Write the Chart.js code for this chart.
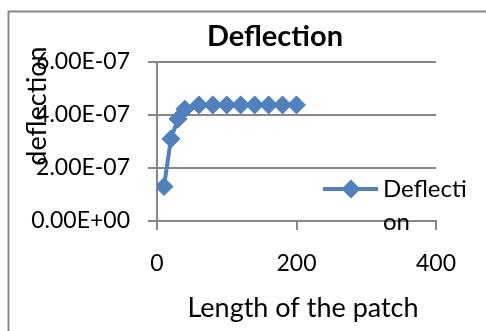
<!DOCTYPE html>
<html>
<head>
<meta charset="utf-8">
<script src="https://cdn.jsdelivr.net/npm/chart.js@4"></script>
<style>
html,body{margin:0;padding:0;background:#fff;}
#c{display:block;}
</style>
</head>
<body>
<canvas id="c" width="486" height="331"></canvas>
<script>
const lengths = [10, 20, 30, 40, 60, 80, 100, 120, 140, 160, 180, 200];
const deflection = [1.3e-7, 3.1e-7, 3.85e-7, 4.22e-7, 4.38e-7, 4.38e-7, 4.38e-7, 4.38e-7, 4.38e-7, 4.38e-7, 4.38e-7, 4.38e-7];
const seriesName = "Deflection";
const chartTitle = "Deflection";
const xTitle = "Length of the patch";
const yTitle = "deflection";
const legendLines = ["Deflecti", "on"];

const BLUE = "#4F81BD";
const GRID = "#878787";
const FONT = "Lato";

function fmtExp(v) {
  const s = Number(v).toExponential(2);
  const m = s.match(/^(-?[\d.]+)e([+-])(\d+)$/);
  if (!m) return s;
  return m[1] + "E" + m[2] + m[3].padStart(2, "0");
}

const decor = {
  id: "decor",
  beforeDraw(chart) {
    const ctx = chart.ctx;
    ctx.save();
    ctx.fillStyle = "#fff";
    ctx.fillRect(0, 0, chart.width, chart.height);
    ctx.strokeStyle = GRID;
    ctx.lineWidth = 2;
    ctx.strokeRect(8.5, 11.5, 600, 600);
    ctx.restore();
  },
  afterDraw(chart) {
    const ctx = chart.ctx;
    ctx.save();
    ctx.fillStyle = "#000";
    // title
    ctx.font = "bold 29px " + FONT;
    ctx.textAlign = "center";
    ctx.textBaseline = "middle";
    ctx.fillText(chartTitle, 275, 37);
    // x title
    ctx.font = "27px " + FONT;
    ctx.fillText(xTitle, 303, 308);
    // y title
    ctx.save();
    ctx.translate(37, 106);
    ctx.rotate(-Math.PI / 2);
    ctx.fillText(yTitle, 0, 0);
    ctx.restore();
    // legend
    const ly = 189;
    ctx.strokeStyle = BLUE;
    ctx.lineWidth = 4;
    ctx.beginPath();
    ctx.moveTo(323, ly);
    ctx.lineTo(378, ly);
    ctx.stroke();
    ctx.fillStyle = BLUE;
    ctx.beginPath();
    const cx = 351, r = 9.5;
    ctx.moveTo(cx, ly - r);
    ctx.lineTo(cx + r, ly);
    ctx.lineTo(cx, ly + r);
    ctx.lineTo(cx - r, ly);
    ctx.closePath();
    ctx.fill();
    ctx.fillStyle = "#000";
    ctx.textAlign = "left";
    ctx.font = "24px " + FONT;
    ctx.fillText(legendLines[0], 383, ly);
    ctx.fillText(legendLines[1], 383, ly + 33);
    ctx.restore();
  }
};

new Chart(document.getElementById("c"), {
  type: "line",
  data: {
    datasets: [{
      label: seriesName,
      data: lengths.map((x, i) => ({ x: x, y: deflection[i] })),
      borderColor: BLUE,
      backgroundColor: BLUE,
      borderWidth: 4,
      pointStyle: "rectRot",
      pointRadius: 9,
      pointBorderWidth: 1,
      pointBackgroundColor: BLUE,
      pointBorderColor: BLUE,
      tension: 0
    }]
  },
  options: {
    responsive: false,
    animation: false,
    layout: { padding: { left: 0, right: 50, top: 62, bottom: 0 } },
    plugins: {
      legend: { display: false },
      title: { display: false },
      tooltip: { enabled: false }
    },
    scales: {
      x: {
        type: "linear",
        min: 0,
        max: 400,
        ticks: {
          stepSize: 200,
          color: "#000",
          font: { family: FONT, size: 23 },
          padding: 20,
          maxRotation: 0
        },
        grid: {
          drawOnChartArea: false,
          color: GRID,
          lineWidth: 2,
          tickLength: 9
        },
        border: { color: GRID, width: 2 },
        afterFit(s) { s.height = 110; }
      },
      y: {
        min: 0,
        max: 6e-7,
        ticks: {
          stepSize: 2e-7,
          color: "#000",
          font: { family: FONT, size: 23 },
          padding: 18,
          callback: (v) => fmtExp(v)
        },
        grid: {
          color: GRID,
          lineWidth: 2,
          tickLength: 9
        },
        border: { color: GRID, width: 2 },
        afterFit(s) { s.width = 157; }
      }
    }
  },
  plugins: [decor]
});
</script>
</body>
</html>
